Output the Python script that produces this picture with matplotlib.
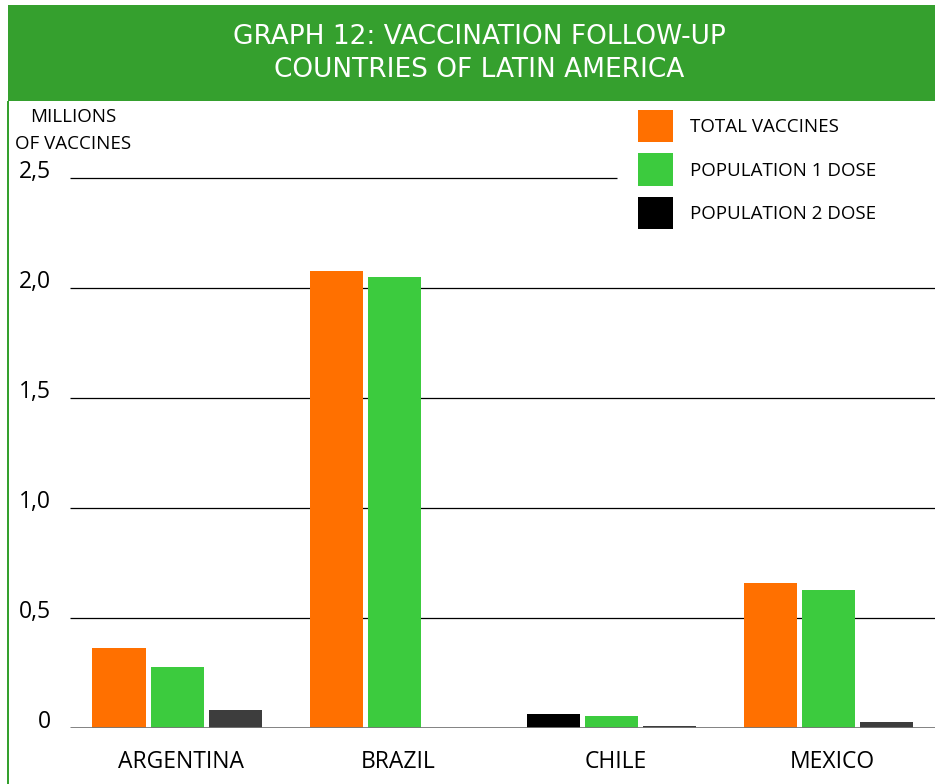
import matplotlib
matplotlib.use("Agg")
import matplotlib.pyplot as plt
from matplotlib.patches import Rectangle
import numpy as np

countries = ["ARGENTINA", "BRAZIL", "CHILE", "MEXICO"]
total_vaccines = [0.364, 2.077, 0.064, 0.660]
population_1_dose = [0.277, 2.050, 0.055, 0.627]
population_2_dose = [0.082, 0.0, 0.011, 0.027]
yticks = [0, 0.5, 1.0, 1.5, 2.0, 2.5]
ytick_labels = ["0", "0,5", "1,0", "1,5", "2,0", "2,5"]

ORANGE = "#ff7000"
GREEN = "#3ccb3e"
DARK = "#3d3d3d"
BANNER = "#35a02e"

W, H = 935, 784
fig = plt.figure(figsize=(W / 100, H / 100), dpi=100)
plt.rcParams["font.family"] = ["Open Sans", "DejaVu Sans"]

def px(x, y):
    return x / W, 1 - y / H

# banner and left border
fig.add_artist(Rectangle(px(8, 101), (W - 8) / W, 96 / H, transform=fig.transFigure,
                         facecolor=BANNER, edgecolor="none"))
fig.add_artist(Rectangle(px(7, H), 2 / W, (H - 101) / H, transform=fig.transFigure,
                         facecolor=BANNER, edgecolor="none"))
fig.text(*px(479, 37), "GRAPH 12: VACCINATION FOLLOW-UP", color="white",
         fontsize=19, ha="center", va="center", family=["Liberation Sans Narrow", "DejaVu Sans"])
fig.text(*px(479, 70), "COUNTRIES OF LATIN AMERICA", color="white",
         fontsize=19, ha="center", va="center", family=["Liberation Sans Narrow", "DejaVu Sans"])

# axes: y=0 at pixel 728, 220 px per unit
x_left, x_right = 70, 935
y0, y_top = 728, 130
ax = fig.add_axes([x_left / W, 1 - y0 / H, (x_right - x_left) / W, (y0 - y_top) / H])
ax.set_ylim(0, (y0 - y_top) / 220)
g0, gs = 177, 217
ax.set_xlim((x_left - g0) / gs, (x_right - g0) / gs)
for s in ax.spines.values():
    s.set_visible(False)
ax.set_xticks([])
ax.set_yticks([])

# grid lines
xr = ax.get_xlim()
for v in yticks[1:-1]:
    ax.hlines(v, xr[0], xr[1], color="black", lw=0.9, zorder=1)
ax.hlines(2.5, xr[0], (617 - g0) / gs, color="black", lw=0.9, zorder=1)
ax.hlines(0, xr[0], xr[1], color="#777777", lw=2, zorder=3)

x = np.arange(len(countries))
bw = 53 / gs
step = 58 / gs
first_colors = [ORANGE, ORANGE, "black", ORANGE]
ax.bar(x - step, total_vaccines, bw, color=first_colors, zorder=2)
ax.bar(x, population_1_dose, bw, color=GREEN, zorder=2)
ax.bar(x + step, population_2_dose, bw, color=DARK, zorder=2)

for xi, name in zip(x, countries):
    ax.text(xi + 0.02, -34 / 220, name, ha="center", va="center", fontsize=16.5)

for v, lab in zip(yticks, ytick_labels):
    fig.text(51 / W, 1 - (y0 - v * 220 - 6) / H, lab, ha="right", va="center", fontsize=16.5)

fig.text(*px(73, 117), "MILLIONS", ha="center", va="center", fontsize=13.5)
fig.text(*px(73, 144), "OF VACCINES", ha="center", va="center", fontsize=13.5)

# legend
legend_items = [("TOTAL VACCINES", ORANGE), ("POPULATION 1 DOSE", GREEN), ("POPULATION 2 DOSE", "black")]
for i, (lab, col) in enumerate(legend_items):
    top = 110 + i * 43.5
    fig.add_artist(Rectangle(px(638, top + 32), 35 / W, 32 / H, transform=fig.transFigure,
                             facecolor=col, edgecolor="none"))
    fig.text(*px(690, top + 17), lab, ha="left", va="center", fontsize=13.5)

fig.savefig("out.png", dpi=100)
